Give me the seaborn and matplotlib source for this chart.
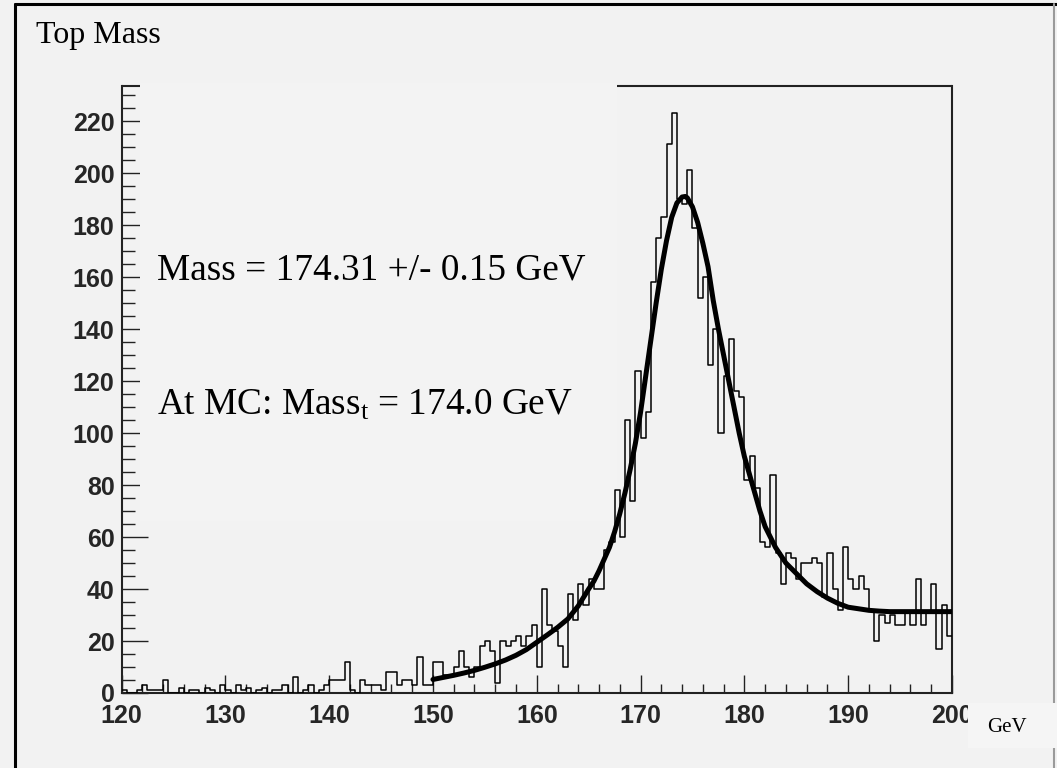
import numpy as np
import pandas as pd
import matplotlib
matplotlib.use("Agg")
import matplotlib.pyplot as plt
from matplotlib.lines import Line2D
from matplotlib.patches import Rectangle
from matplotlib.ticker import MultipleLocator
import seaborn as sns

# ---------------- data ----------------
bin_low = 120.0
bin_high = 200.0
bin_width = 0.5

counts_120_130 = [1, 0, 0, 1, 3, 1, 1, 1, 5, 0, 0, 2, 0, 1, 1, 0, 2, 1, 0, 3]
counts_130_140 = [1, 0, 3, 1, 2, 0, 1, 2, 0, 1, 1, 3, 0, 6, 0, 1, 3, 0, 1, 3]
counts_140_150 = [5, 5, 5, 12, 1, 0, 5, 3, 3, 3, 1, 8, 8, 3, 5, 5, 3, 14, 3, 3]
counts_150_160 = [12, 12, 7, 7, 10, 16, 10, 6, 10, 18, 20, 16, 4, 20, 18, 20, 22, 18, 22, 26]
counts_160_170 = [10, 40, 26, 24, 18, 10, 38, 28, 42, 34, 44, 40, 40, 55, 58, 78, 60, 105, 74, 124]
counts_170_180 = [98, 108, 158, 175, 183, 211, 223, 190, 188, 201, 179, 152, 160, 126, 140, 100, 122, 136, 116, 114]
counts_180_190 = [82, 91, 79, 58, 56, 84, 54, 42, 54, 52, 44, 50, 50, 52, 50, 37, 54, 40, 32, 56]
counts_190_200 = [44, 40, 45, 40, 32, 20, 30, 27, 30, 26, 26, 31, 26, 44, 26, 31, 42, 17, 34, 22]

fit_mass = [150, 151, 152, 153, 154, 155, 156, 157, 158, 159, 160, 161, 162, 163, 164,
            165, 165.5, 166, 166.5, 167, 167.5, 168, 168.5, 169, 169.5, 170, 170.5, 171,
            171.5, 172, 172.5, 173, 173.5, 174, 174.3, 174.5, 175, 175.5, 176, 176.5, 177,
            177.5, 178, 178.5, 179, 179.5, 180, 180.5, 181, 181.5, 182, 183, 184, 185,
            186, 187, 188, 189, 190, 191, 192, 193, 194, 195, 196, 197, 198, 199, 200]
fit_value = [5.2, 6.0, 6.8, 7.7, 8.7, 9.9, 11.2, 12.7, 14.5, 16.7, 19.5, 22.3, 25.2, 28.5, 33.5,
             40, 43, 47, 51.5, 56, 62, 69, 77, 86, 96, 108, 122, 136,
             150, 163, 174, 183, 188.5, 190.8, 191, 190.5, 187, 181, 173, 164, 151,
             140, 130, 120, 110, 100, 91, 84, 77, 70, 64, 56, 50, 46,
             42, 39, 36.5, 34.5, 33, 32.4, 31.8, 31.5, 31.3, 31.3, 31.3, 31.3, 31.3, 31.3, 31.3]

title_text = "Top Mass"
fit_label = "Mass = 174.31 +/- 0.15 GeV"
mc_label = r"At MC: Mass$_\mathrm{t}$ = 174.0 GeV"
unit_label = "GeV"
x_ticks = [120, 130, 140, 150, 160, 170, 180, 190, 200]
y_ticks = [0, 20, 40, 60, 80, 100, 120, 140, 160, 180, 200, 220]

# ---------------- build table ----------------
counts = (counts_120_130 + counts_130_140 + counts_140_150 + counts_150_160 +
          counts_160_170 + counts_170_180 + counts_180_190 + counts_190_200)
n_bins = len(counts)
centers = [bin_low + bin_width * (i + 0.5) for i in range(n_bins)]
hist_df = pd.DataFrame({"mass": centers, "count": counts})
fit_df = pd.DataFrame({"mass": fit_mass, "value": fit_value})

# ---------------- style ----------------
sns.set_theme(style="ticks")
BG = "#f2f2f2"
PAVE = "#f3f3f3"
BOX = "#f5f5f5"
plt.rcParams["font.family"] = ["Liberation Sans", "DejaVu Sans"]
plt.rcParams["mathtext.fontset"] = "custom"
plt.rcParams["mathtext.rm"] = "Liberation Serif"
plt.rcParams["mathtext.it"] = "Liberation Serif:italic"

W, H = 1057, 768
fig = plt.figure(figsize=(W / 100, H / 100), dpi=100, facecolor=BG)

def fx(px):
    return px / W

def fy(py):
    return 1 - py / H

ax_left, ax_right, ax_top, ax_bottom = 121.5, 952, 86, 693
ax = fig.add_axes([fx(ax_left), fy(ax_bottom), fx(ax_right - ax_left), (ax_bottom - ax_top) / H])
ax.set_facecolor(BG)

sns.histplot(data=hist_df, x="mass", weights="count", binwidth=bin_width,
             binrange=(bin_low, bin_high), element="step",
             fill=False, color="black", linewidth=1.1, ax=ax, zorder=4)
sns.lineplot(data=fit_df, x="mass", y="value", color="black", linewidth=3.6, ax=ax,
             zorder=5)

ymax = 233.5
ax.set_xlim(bin_low, bin_high)
ax.set_ylim(0, ymax)
ax.set_xlabel("")
ax.set_ylabel("")

ax.set_xticks(x_ticks)
ax.set_yticks(y_ticks)
ax.xaxis.set_minor_locator(MultipleLocator(2))
ax.yaxis.set_minor_locator(MultipleLocator(5))
ax.set_xticklabels([str(t) for t in x_ticks])
ax.set_yticklabels([str(t) for t in y_ticks])

ax.tick_params(axis="x", which="major", direction="in", length=13, width=1.0,
               color="#222222", pad=8, labelsize=18)
ax.tick_params(axis="x", which="minor", direction="in", length=6.5, width=1.0,
               color="#222222")
ax.tick_params(axis="y", which="major", direction="in", length=18.5, width=1.0,
               color="#222222", pad=5, labelsize=18)
ax.tick_params(axis="y", which="minor", direction="in", length=9.5, width=1.0,
               color="#222222")
for lab in ax.get_xticklabels() + ax.get_yticklabels():
    lab.set_fontweight("bold")
    lab.set_family(["Liberation Sans", "DejaVu Sans"])

for side in ["left", "bottom", "right"]:
    ax.spines[side].set_color("#222222")
    ax.spines[side].set_linewidth(1.5)
ax.spines["top"].set_visible(False)
ax.add_line(Line2D([0.0, 1.0], [1.0, 1.0], transform=ax.transAxes,
                   color="#222222", linewidth=1.5, clip_on=False, zorder=2.55))

# text pave: hides the top-left part of the frame and the ends of the long ticks,
# drawn under the histogram and the fit curve
pave_left, pave_right, pave_top = 139.5, 616.5, 83
pave_bottom = ax_bottom - 66 * (ax_bottom - ax_top) / ymax
ax.add_patch(Rectangle((fx(pave_left), fy(pave_bottom)), fx(pave_right - pave_left),
                       (pave_bottom - pave_top) / H, transform=fig.transFigure,
                       facecolor=PAVE, edgecolor="none", zorder=2.8, clip_on=False))

# ---------------- texts ----------------
serif = ["Liberation Serif", "DejaVu Serif"]
fig.text(fx(36), fy(36), title_text, family=serif, fontsize=23, va="center", ha="left",
         color="black", zorder=12)
fig.text(fx(157), fy(280), fit_label, family=serif, fontsize=26.8, va="baseline",
         ha="left", color="black", zorder=12)
fig.text(fx(157), fy(415), mc_label, family=serif, fontsize=26.8, va="baseline",
         ha="left", color="black", zorder=12)

# GeV box covering part of the last tick label and the border
fig.patches.append(Rectangle((fx(968), fy(748)), fx(1057 - 968), (748 - 703) / H,
                             transform=fig.transFigure, facecolor=BOX,
                             edgecolor="none", zorder=10))
fig.text(fx(1007), fy(727), unit_label, family=serif, fontsize=15, va="center",
         ha="center", color="black", zorder=11)

# canvas border lines
fig.add_artist(Line2D([fx(15), fx(15)], [fy(4), fy(768)], transform=fig.transFigure,
                      color="black", linewidth=2.2, zorder=9))
fig.add_artist(Line2D([fx(15), fx(1057)], [fy(4), fy(4)], transform=fig.transFigure,
                      color="black", linewidth=2.2, zorder=9))
fig.add_artist(Line2D([fx(1054), fx(1054)], [fy(4), fy(768)], transform=fig.transFigure,
                      color="#9a9a9a", linewidth=1.5, zorder=9))

fig.savefig("out.png", dpi=100, facecolor=BG)
